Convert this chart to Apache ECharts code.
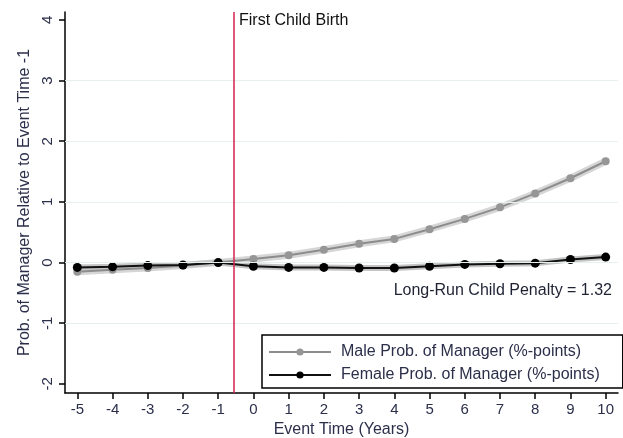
<!DOCTYPE html>
<html>
<head>
<meta charset="utf-8">
<script src="https://cdn.jsdelivr.net/npm/echarts@6/dist/echarts.min.js"></script>
<style>
  html, body { margin: 0; padding: 0; background: #fff; }
  #chart { width: 623px; height: 438px; }
</style>
</head>
<body>
<div id="chart"></div>
<script>
const eventTime = [-5, -4, -3, -2, -1, 0, 1, 2, 3, 4, 5, 6, 7, 8, 9, 10]
const maleVals = [-0.15, -0.12, -0.09, -0.05, 0, 0.06, 0.12, 0.21, 0.31, 0.39, 0.55, 0.72, 0.91, 1.14, 1.39, 1.67]
const femaleVals = [-0.08, -0.07, -0.05, -0.04, 0, -0.06, -0.08, -0.08, -0.09, -0.09, -0.06, -0.03, -0.02, -0.01, 0.05, 0.09]
const xTicks = [-5, -4, -3, -2, -1, 0, 1, 2, 3, 4, 5, 6, 7, 8, 9, 10]
const yTicks = [-2, -1, 0, 1, 2, 3, 4]
const gridVals = [-1, 0, 1, 2, 3]
const birthLine = -0.55

const font = 'Liberation Sans, Arial, sans-serif'
const textCol = '#2b2f4a'

const myChart = echarts.init(document.getElementById('chart'))
const pts = (vals) => eventTime.map((t, i) => [t, vals[i]])

myChart.setOption({
  animation: false,
  grid: { left: 65, right: 5, top: 12, bottom: 45, outerBoundsMode: 'none', containLabel: false },
  xAxis: {
    type: 'value',
    min: -5.35,
    max: 10.35,
    name: 'Event Time (Years)',
    nameLocation: 'middle',
    nameGap: 27,
    nameTextStyle: { color: textCol, fontFamily: font, fontSize: 16 },
    axisLine: { onZero: false, lineStyle: { color: '#000', width: 1.5 } },
    axisTick: { show: true, length: 6, lineStyle: { color: '#000', width: 1.5 }, customValues: xTicks },
    axisLabel: { color: textCol, fontFamily: font, fontSize: 15, margin: 9, customValues: xTicks },
    splitLine: { show: false }
  },
  yAxis: {
    type: 'value',
    min: -2.15,
    max: 4.13,
    name: 'Prob. of Manager Relative to Event Time -1',
    nameLocation: 'middle',
    nameGap: 32,
    nameTextStyle: { color: textCol, fontFamily: font, fontSize: 16 },
    axisLine: { show: true, onZero: false, lineStyle: { color: '#000', width: 1.5 } },
    axisTick: { show: true, length: 6, lineStyle: { color: '#000', width: 1.5 }, customValues: yTicks },
    axisLabel: { color: textCol, fontFamily: font, fontSize: 15, rotate: 90, margin: 10, customValues: yTicks },
    splitLine: { show: false }
  },
  legend: {
    orient: 'vertical',
    left: 262,
    top: 335,
    borderColor: '#000',
    borderWidth: 1.5,
    padding: [9, 23, 5, 6],
    itemGap: 7,
    itemWidth: 62,
    itemHeight: 9,
    textStyle: { color: textCol, fontFamily: font, fontSize: 16, lineHeight: 16, padding: [0, 0, 0, 5] },
    data: ['Male Prob. of Manager (%-points)', 'Female Prob. of Manager (%-points)']
  },
  graphic: [
    {
      type: 'text',
      left: 239,
      top: 13,
      style: { text: 'First Child Birth', fill: '#111', font: '16px ' + font }
    },
    {
      type: 'text',
      right: 11,
      top: 283,
      style: { text: 'Long-Run Child Penalty = 1.32', fill: '#1e2233', font: '16px ' + font }
    }
  ],
  series: [
    {
      name: 'male band',
      type: 'line',
      data: pts(maleVals),
      symbol: 'none',
      silent: true,
      lineStyle: { color: '#d6d6d6', width: 7 },
      z: 1,
      markLine: {
        silent: true,
        symbol: 'none',
        label: { show: false },
        lineStyle: { color: '#e6f0f1', width: 1, type: 'solid' },
        data: gridVals.map((v) => ({ yAxis: v }))
      }
    },
    {
      name: 'female band',
      type: 'line',
      data: pts(femaleVals),
      symbol: 'none',
      silent: true,
      lineStyle: { color: '#c4c4c4', width: 6 },
      z: 1
    },
    {
      name: 'Male Prob. of Manager (%-points)',
      type: 'line',
      data: pts(maleVals),
      symbol: 'circle',
      symbolSize: 8,
      itemStyle: { color: '#969696' },
      lineStyle: { color: '#8c8c8c', width: 2 },
      z: 3
    },
    {
      name: 'Female Prob. of Manager (%-points)',
      type: 'line',
      data: pts(femaleVals),
      symbol: 'circle',
      symbolSize: 9,
      itemStyle: { color: '#000' },
      lineStyle: { color: '#111', width: 2 },
      z: 4,
      markLine: {
        silent: true,
        symbol: 'none',
        label: { show: false },
        lineStyle: { color: '#d2234f', width: 1.5, type: 'solid' },
        data: [{ xAxis: birthLine }]
      }
    }
  ]
})
</script>
</body>
</html>
